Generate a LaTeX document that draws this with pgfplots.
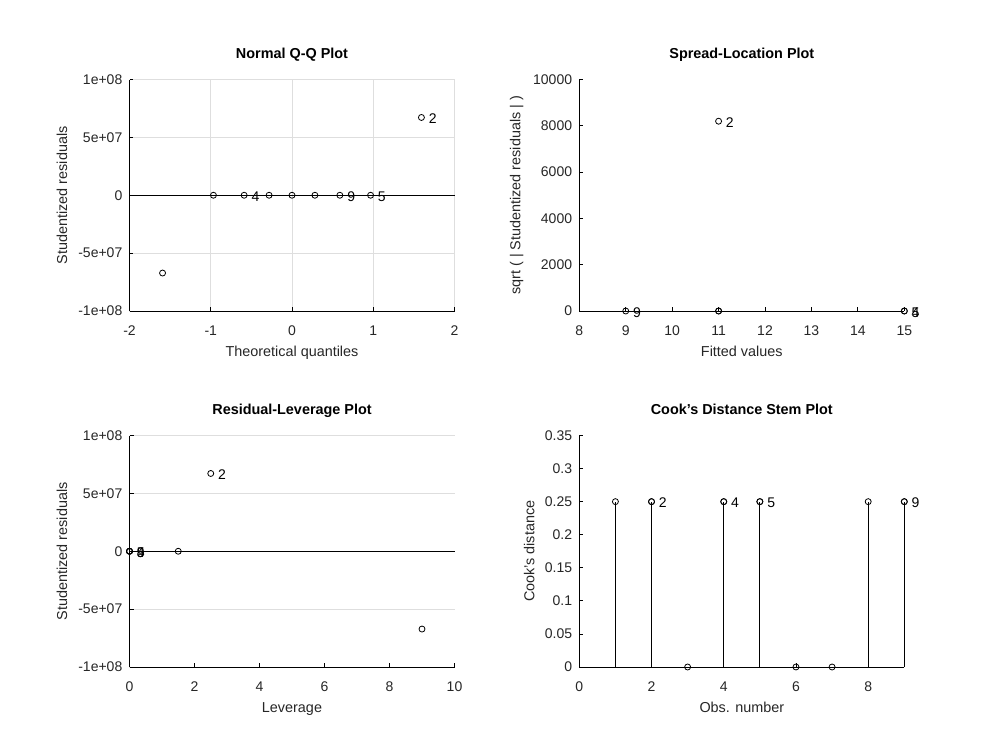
\documentclass[border=0pt]{standalone}
\usepackage{pgfplots}
\pgfplotsset{compat=1.18}
\usepackage{fontspec}
\setmainfont{Liberation Sans}
\definecolor{gridc}{RGB}{222,222,222}
\definecolor{txt}{RGB}{38,38,38}
\newcommand{\fs}{\fontsize{14bp}{16bp}\selectfont}
\newcommand{\fl}{\fontsize{14.4bp}{16bp}\selectfont}
\pgfplotsset{
  diag/.style={
    scale only axis, width=325bp, height=231.5bp, anchor=north west,
    axis x line*=bottom, axis y line*=left,
    axis line style={-, black, line width=0.8bp},
    tick align=inside, major tick length=4bp,
    tick style={black, line width=0.8bp},
    scaled x ticks=false, scaled y ticks=false,
    ticklabel style={font=\fs, text=txt},
    xticklabel style={inner sep=0pt, anchor=base, yshift=-24.5bp},
    yticklabel style={inner sep=0pt, anchor=east, xshift=-7bp},
    every axis x label/.style={at={(axis description cs:0.5,0)}, anchor=base, yshift=-45.5bp, inner sep=0pt, font=\fl, text=txt},
    every axis y label/.style={at={(axis description cs:0,0.5)}, rotate=90, anchor=center, yshift=67.5bp, inner sep=0pt, font=\fl, text=txt},
    every axis title/.style={at={(axis description cs:0.5,1)}, anchor=base, yshift=21.5bp, inner sep=0pt, font=\bfseries\fl, text=black},
    grid style={gridc, line width=0.8bp},
    clip=false,
  },
  pts/.style={only marks, mark=o, mark size=3bp, black, mark options={line width=0.8bp}},
  lbl/.style={only marks, mark=o, mark size=3bp, black, mark options={line width=0.8bp},
    nodes near coords, point meta=explicit symbolic,
    every node near coord/.append style={anchor=west, xshift=7bp, yshift=-1.4bp, inner sep=0pt, font=\fs, text=black}},
}
\begin{document}
\begin{tikzpicture}
\path[use as bounding box] (0,0) rectangle (999bp,-749bp);

% Normal Q-Q
\begin{axis}[diag, at={(129.5bp,-79.5bp)},
  title={Normal Q-Q Plot}, xlabel={Theoretical quantiles}, ylabel={Studentized residuals},
  xmin=-2, xmax=2, ymin=-1e8, ymax=1e8, grid=major,
  xtick={-2,-1,0,1,2}, xticklabels={-2,-1,0,1,2},
  ytick={-1e8,-5e7,0,5e7,1e8}, yticklabels={-1e+08,-5e+07,0,5e+07,1e+08}]
\addplot[black, line width=0.8bp] coordinates {(-2,0) (2,0)};
\addplot[pts] coordinates {(-1.593,-6.72e7) (-0.967,0) (-0.282,0) (0,0) (0.282,0)};
\addplot[lbl] coordinates {(-0.589,0) [4] (0.589,0) [9] (0.967,0) [5] (1.593,6.72e7) [2]};
\end{axis}

% Spread-Location
\begin{axis}[diag, at={(579.3bp,-79.5bp)},
  title={Spread-Location Plot}, xlabel={Fitted values}, ylabel={sqrt ( | Studentized residuals | )},
  every axis y label/.append style={yshift=-5bp},
  xmin=8, xmax=15, ymin=0, ymax=10000,
  xtick={8,...,15}, xticklabels={8,9,10,11,12,13,14,15},
  ytick={0,2000,4000,6000,8000,10000}, yticklabels={0,2000,4000,6000,8000,10000}]
\addplot[pts] coordinates {(11,0) (11,0)};
\addplot[lbl] coordinates {(9,0) [9] (11,8198) [2] (15,0) [4] (15,0) [5]};
\end{axis}

% Residual-Leverage
\begin{axis}[diag, at={(129.5bp,-435.5bp)},
  title={Residual-Leverage Plot}, xlabel={Leverage}, ylabel={Studentized residuals},
  xmin=0, xmax=10, ymin=-1e8, ymax=1e8, ymajorgrids,
  xtick={0,2,...,10}, xticklabels={0,2,4,6,8,10},
  ytick={-1e8,-5e7,0,5e7,1e8}, yticklabels={-1e+08,-5e+07,0,5e+07,1e+08}]
\addplot[black, line width=0.8bp] coordinates {(0,0) (10,0)};
\addplot[pts] coordinates {(0,0) (1.5,0) (9,-6.72e7)};
\addplot[lbl] coordinates {(0,0) [4] (0,0) [5] (0,0) [9] (2.5,6.72e7) [2]};
\end{axis}

% Cook's distance
\begin{axis}[diag, at={(579.3bp,-435.5bp)},
  title={Cook's Distance Stem Plot}, xlabel={Obs. number}, ylabel={Cook's distance},
  every axis y label/.append style={yshift=-17.5bp},
  xmin=0, xmax=9, ymin=0, ymax=0.35,
  xtick={0,2,4,6,8}, xticklabels={0,2,4,6,8},
  ytick={0,0.05,...,0.35}, yticklabels={0,0.05,0.1,0.15,0.2,0.25,0.3,0.35}]
\addplot[ycomb, black, line width=0.8bp, mark=o, mark size=3bp] coordinates
  {(1,0.25) (2,0.25) (3,0) (4,0.25) (5,0.25) (6,0) (7,0) (8,0.25) (9,0.25)};
\addplot[lbl] coordinates {(2,0.25) [2] (4,0.25) [4] (5,0.25) [5] (9,0.25) [9]};
\end{axis}
\end{tikzpicture}
\end{document}
